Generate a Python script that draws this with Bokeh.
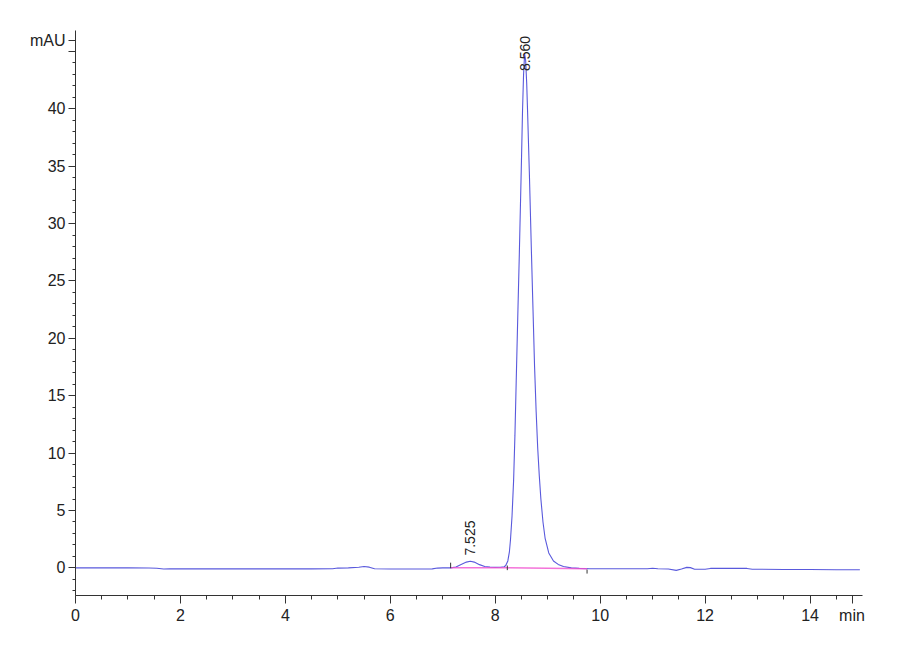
import math
from bokeh.plotting import figure
from bokeh.models import Range1d, FixedTicker, Label
from bokeh.embed import file_html
from bokeh.resources import INLINE

# ---- data ----
time_min = [0.0, 0.5, 1.0, 1.4, 1.55, 1.68, 1.8, 2.5, 3.5, 4.5,
            4.9, 5.0, 5.2, 5.4, 5.5, 5.6, 5.7, 6.0, 6.5, 6.8,
            6.9, 7.0, 7.15, 7.25, 7.35, 7.45, 7.525, 7.6, 7.7, 7.8,
            7.9, 8.0, 8.1, 8.17, 8.2, 8.24, 8.27, 8.29, 8.32, 8.35,
            8.375, 8.40, 8.43, 8.46, 8.50, 8.52, 8.54, 8.56, 8.58, 8.60,
            8.615, 8.65, 8.69, 8.72, 8.75, 8.78, 8.81, 8.84, 8.87, 8.91,
            8.95, 9.02, 9.11, 9.2, 9.3, 9.45, 9.6, 9.8, 10.0, 10.4,
            10.9, 11.0, 11.1, 11.3, 11.45, 11.55, 11.65, 11.72, 11.8, 12.0,
            12.1, 12.8, 12.9, 13.5, 14.0, 14.5, 14.95]
signal_mau = [0.0, 0.0, 0.0, -0.01, -0.04, -0.1, -0.09, -0.09, -0.09, -0.09,
              -0.08, -0.02, 0.0, 0.05, 0.12, 0.06, -0.08, -0.1, -0.1, -0.09,
              -0.02, 0.0, 0.0, 0.08, 0.3, 0.5, 0.57, 0.5, 0.28, 0.12,
              0.06, 0.04, 0.05, 0.1, 0.2, 0.6, 1.4, 2.4, 4.5, 7.6,
              11.5, 16.3, 22.0, 27.5, 35.5, 39.8, 43.0, 44.8, 44.2, 42.2,
              40.0, 34.5, 27.5, 22.5, 17.5, 13.6, 10.4, 8.0, 6.0, 4.0,
              2.6, 1.3, 0.6, 0.3, 0.12, 0.0, -0.05, -0.08, -0.08, -0.08,
              -0.08, -0.04, -0.08, -0.1, -0.22, -0.1, 0.04, 0.02, -0.12, -0.12,
              -0.05, -0.05, -0.12, -0.14, -0.15, -0.16, -0.17]

baseline_t = [7.15, 8.23, 9.75]
baseline_v = [0.0, 0.0, -0.08]

marker_t = [7.15, 8.23, 9.75]
marker_top = [0.45, 0.2, -0.15]
marker_bot = [-0.03, -0.2, -0.5]

peak_times = [7.525, 8.560]
peak_labels = ["7.525", "8.560"]
peak_label_y = [1.07, 43.3]

# axis ticks and their labels
x_major_ticks = [0, 2, 4, 6, 8, 10, 12, 14]
x_minor_ticks = [i * 0.5 for i in range(0, 30)]
x_unit_pos = 14.8
x_unit_label = "min"
y_major_ticks = [0, 5, 10, 15, 20, 25, 30, 35, 40, 45]
y_minor_ticks = list(range(-2, 47))
y_unit_pos = 46
y_unit_label = "mAU"

FONT = "'Liberation Sans Narrow', 'Liberation Sans', sans-serif"
AXIS_COLOR = "#333333"

p = figure(width=892, height=648,
           x_range=Range1d(0, 15), y_range=Range1d(-2.41, 46.83),
           output_backend="svg", toolbar_location=None,
           min_border_left=75, min_border_top=30,
           min_border_right=30, min_border_bottom=53)
p.outline_line_color = None
p.xgrid.grid_line_color = None
p.ygrid.grid_line_color = None

xa = p.xaxis[0]
ya = p.yaxis[0]
xa.ticker = FixedTicker(ticks=x_major_ticks + [x_unit_pos], minor_ticks=x_minor_ticks)
xa.major_label_overrides = {x_unit_pos: x_unit_label}
ya.ticker = FixedTicker(ticks=y_major_ticks + [y_unit_pos], minor_ticks=y_minor_ticks)
ya.major_label_overrides = {45: "", y_unit_pos: y_unit_label}

for ax in (xa, ya):
    ax.axis_line_color = AXIS_COLOR
    ax.major_tick_line_color = AXIS_COLOR
    ax.minor_tick_line_color = AXIS_COLOR
    ax.major_tick_in = 0
    ax.minor_tick_in = 0
    ax.major_label_text_font = FONT
    ax.major_label_text_color = "#222222"
    ax.major_label_text_font_size = "16px"
xa.major_tick_out = 8
xa.minor_tick_out = 4
xa.major_label_standoff = 3
ya.major_tick_out = 7
ya.minor_tick_out = 3
ya.major_label_standoff = 3

# chromatogram trace
p.line(time_min, signal_mau, line_color="#3c3cd6", line_width=1.1, line_alpha=0.85)

# integration baseline
p.line(baseline_t, baseline_v, line_color="#f050d0", line_width=1.5, line_alpha=0.8)

# integration event markers
p.segment(x0=marker_t, y0=marker_bot, x1=marker_t, y1=marker_top,
          line_color="#333333", line_width=1)

# peak retention time labels
for t, lab, ly in zip(peak_times, peak_labels, peak_label_y):
    p.add_layout(Label(x=t, y=ly, text=lab, angle=math.pi / 2,
                       text_align="left", text_baseline="middle",
                       text_font="Liberation Sans", text_font_size="14px",
                       text_color="#222222"))

open("out.html", "w").write(file_html(p, INLINE))
